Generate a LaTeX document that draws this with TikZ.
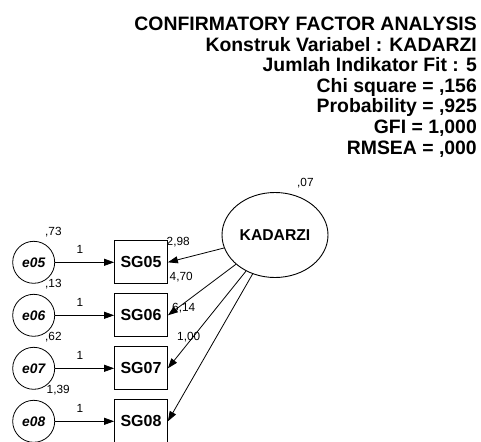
\documentclass[tikz,border=0pt]{standalone}
\usepackage{fontspec}
\setmainfont{Liberation Sans}
\usetikzlibrary{shapes.geometric,arrows.meta}

\tikzset{
  errnode/.style={draw, circle, minimum size=42pt, inner sep=0pt, line width=0.8pt,
    font=\fontsize{13.8}{15}\selectfont\bfseries\itshape},
  obsnode/.style={draw, rectangle, minimum width=53pt, minimum height=43pt, inner sep=0pt,
    line width=0.8pt, font=\fontsize{16}{18}\selectfont\bfseries},
  latnode/.style={draw, ellipse, minimum width=106pt, minimum height=85pt, inner sep=0pt,
    line width=0.9pt, font=\fontsize{15.7}{18}\selectfont\bfseries},
  est/.style={inner sep=0pt, anchor=base west, font=\fontsize{11.8}{13}\selectfont},
  head/.style={inner sep=0pt, anchor=base east, font=\fontsize{19.4}{21}\selectfont\bfseries},
  arr/.style={-{Triangle[length=10pt,width=7pt]}, line width=0.8pt},
}

\begin{document}
\begin{tikzpicture}[x=1pt,y=-1pt]
\clip (0,0) rectangle (481,441);

% header
\node[head] (h1) at (477,30.5)  {CONFIRMATORY FACTOR ANALYSIS};
\node[head] (h2) at (477,51.1)  {Konstruk Variabel : KADARZI};
\node[head] (h3) at (477,71.7)  {Jumlah Indikator Fit : 5};
\node[head] (h4) at (477,92.3)  {Chi square = ,156};
\node[head] (h5) at (477,112.9) {Probability = ,925};
\node[head] (h6) at (477,133.5) {GFI = 1,000};
\node[head] (h7) at (477,154.1) {RMSEA = ,000};

% latent
\node[latnode] (KADARZI) at (275,235) {KADARZI};
\node[est] (v07) at (297,186.7) {,07};

% errors and indicators
\node[errnode] (e05) at (33.7,262.3) {e05};
\node[errnode] (e06) at (33.7,315.3) {e06};
\node[errnode] (e07) at (33.7,368.3) {e07};
\node[errnode] (e08) at (33.7,421.3) {e08};

\node[obsnode] (SG05) at (141,262.3) {SG05};
\node[obsnode] (SG06) at (141,315.3) {SG06};
\node[obsnode] (SG07) at (141,368.3) {SG07};
\node[obsnode] (SG08) at (141,421.3) {SG08};

\node[est] (v73) at (45,235) {,73};
\node[est] (v13) at (45,287.5) {,13};
\node[est] (v62) at (45,340.3) {,62};
\node[est] (v139) at (46.5,393.3) {1,39};

\node[est] (w05) at (76.5,253.5) {1};
\node[est] (w06) at (76.5,306.5) {1};
\node[est] (w07) at (76.5,359.5) {1};
\node[est] (w08) at (76.5,412.5) {1};

\node[est] (l298) at (166.5,245.7) {2,98};
\node[est] (l470) at (169.5,280) {4,70};
\node[est] (l614) at (172,311) {6,14};
\node[est] (l100) at (177,340) {1,00};

\draw[arr] (e05) -- (SG05);
\draw[arr] (e06) -- (SG06);
\draw[arr] (e07) -- (SG07);
\draw[arr] (e08) -- (SG08);

\draw[arr] (KADARZI) -- (SG05.east);
\draw[arr] (KADARZI) -- (SG06.east);
\draw[arr] (KADARZI) -- (SG07.east);
\draw[arr] (KADARZI) -- (SG08.east);
\end{tikzpicture}
\end{document}
